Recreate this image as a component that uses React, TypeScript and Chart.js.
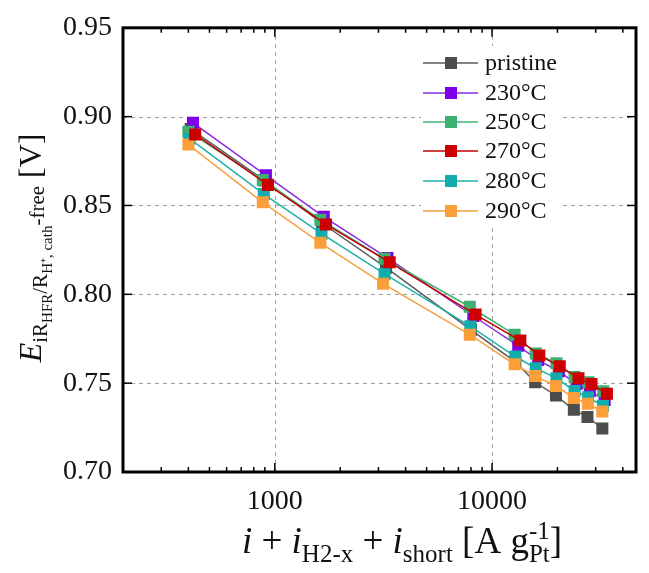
import React, { useEffect, useRef } from 'react';
import { Chart, registerables } from 'chart.js';

Chart.register(...registerables);

// ---------- data ----------
const seriesLabels = ['pristine', '230°C', '250°C', '270°C', '280°C', '290°C'];

const xPristine = [410, 900, 1650, 3250, 8000, 12800, 15800, 19700, 23800, 27500, 32200];
const yPristine = [0.893, 0.864, 0.840, 0.815, 0.780, 0.762, 0.7505, 0.743, 0.735, 0.731, 0.7245];

const x230 = [420, 910, 1680, 3300, 8200, 13200, 16300, 20300, 24500, 28200, 33000];
const y230 = [0.8965, 0.867, 0.8436, 0.8205, 0.7878, 0.771, 0.763, 0.7567, 0.7495, 0.7456, 0.7405];

const x250 = [400, 880, 1620, 3200, 7900, 12700, 15900, 19800, 24000, 27800, 32500];
const y250 = [0.8915, 0.8644, 0.842, 0.820, 0.793, 0.7773, 0.7667, 0.7612, 0.7534, 0.7505, 0.7455];

const x270 = [430, 930, 1720, 3380, 8400, 13500, 16500, 20500, 25000, 28700, 33800];
const y270 = [0.890, 0.8616, 0.8393, 0.818, 0.7886, 0.774, 0.7656, 0.7595, 0.7528, 0.7495, 0.744];

const x280 = [405, 890, 1640, 3200, 7950, 12800, 15900, 19800, 24000, 27700, 32400];
const y280 = [0.8876, 0.8564, 0.8341, 0.8115, 0.782, 0.765, 0.7584, 0.7528, 0.7456, 0.742, 0.7373];

const x290 = [400, 880, 1620, 3150, 7900, 12700, 15800, 19700, 23800, 27600, 32200];
const y290 = [0.8843, 0.8518, 0.829, 0.806, 0.7773, 0.7606, 0.754, 0.7484, 0.7417, 0.7384, 0.734];

const seriesX = [xPristine, x230, x250, x270, x280, x290];
const seriesY = [yPristine, y230, y250, y270, y280, y290];

const lineColors = ['#5a5a5a', '#8a2be2', '#3cb371', '#c00000', '#20b2aa', '#f7a040'];
const markerColors = ['#4d4d4d', '#7f00e6', '#3cb070', '#cc0000', '#12acac', '#fa9f3a'];
const drawOrder = [6, 5, 4, 1, 3, 2];

const xMin = 200;
const xMax = 46000;
const yMin = 0.70;
const yMax = 0.95;
const xMajorTicks = [1000, 10000];
const xMinorTicks = [300, 400, 500, 600, 700, 800, 900, 2000, 3000, 4000, 5000, 6000, 7000, 8000, 9000, 20000, 30000, 40000];
const yTickValues = [0.70, 0.75, 0.80, 0.85, 0.90, 0.95];

const FONT = "'Liberation Serif', 'Times New Roman', serif";

type Part = { t?: string; s: number; i?: boolean; dy?: number; sup?: string; sub?: string };

const yTitleParts: Part[] = [
  { t: 'E', s: 32, i: true, dy: 0 },
  { t: 'iR', s: 21, dy: 6 },
  { t: 'HFR', s: 15, dy: 11 },
  { t: '/R', s: 21, dy: 6 },
  { t: 'H⁺, cath', s: 15, dy: 11 },
  { t: '-free', s: 21, dy: 3 },
  { t: ' [V]', s: 32, dy: 0 },
];

const xTitleParts: Part[] = [
  { t: 'i', s: 37, i: true },
  { t: ' + ', s: 37 },
  { t: 'i', s: 37, i: true },
  { t: 'H2-x', s: 25, dy: 9 },
  { t: ' + ', s: 37 },
  { t: 'i', s: 37, i: true },
  { t: 'short', s: 25, dy: 9 },
  { t: ' [A g', s: 37 },
  { sup: '-1', sub: 'Pt', s: 25 },
  { t: ']', s: 37 },
];

function fontOf(p: Part) {
  return `${p.i ? 'italic ' : ''}${p.s}px ${FONT}`;
}

function partWidth(ctx: CanvasRenderingContext2D, p: Part) {
  ctx.font = fontOf(p);
  if (p.t !== undefined) return ctx.measureText(p.t).width;
  return Math.max(ctx.measureText(p.sup || '').width, ctx.measureText(p.sub || '').width);
}

function drawRich(ctx: CanvasRenderingContext2D, parts: Part[], cx: number, baseY: number) {
  const total = parts.reduce((a, p) => a + partWidth(ctx, p), 0);
  let x = cx - total / 2;
  ctx.textAlign = 'left';
  ctx.textBaseline = 'alphabetic';
  for (const p of parts) {
    const w = partWidth(ctx, p);
    ctx.font = fontOf(p);
    if (p.t !== undefined) {
      ctx.fillText(p.t, x, baseY + (p.dy || 0));
    } else {
      ctx.fillText(p.sup || '', x, baseY - 14);
      ctx.fillText(p.sub || '', x, baseY + 9);
    }
    x += w;
  }
}

const framePlugin = {
  id: 'framePlugin',
  beforeDatasetsDraw(chart: any) {
    const { ctx, chartArea: a, scales } = chart;
    const xs = scales.x;
    const ys = scales.y;
    ctx.save();
    ctx.strokeStyle = '#a0a0a0';
    ctx.lineWidth = 1;
    ctx.setLineDash([4, 4]);
    for (const v of xMajorTicks) {
      const px = Math.round(xs.getPixelForValue(v)) + 0.5;
      ctx.beginPath();
      ctx.moveTo(px, a.top);
      ctx.lineTo(px, a.bottom);
      ctx.stroke();
    }
    for (const v of yTickValues) {
      const py = Math.round(ys.getPixelForValue(v)) + 0.5;
      ctx.beginPath();
      ctx.moveTo(a.left, py);
      ctx.lineTo(a.right, py);
      ctx.stroke();
    }
    ctx.restore();
  },
  afterDatasetsDraw(chart: any) {
    const { ctx } = chart;
    // legend
    ctx.save();
    const boxL = 421, boxT = 46, boxR = 563, boxB = 228;
    ctx.fillStyle = '#ffffff';
    ctx.fillRect(boxL, boxT, boxR - boxL, boxB - boxT);
    const rowY = [63, 93, 122, 151, 181, 211];
    for (let i = 0; i < seriesLabels.length; i++) {
      const y = rowY[i];
      ctx.strokeStyle = lineColors[i];
      ctx.lineWidth = 1.5;
      ctx.setLineDash([]);
      ctx.beginPath();
      ctx.moveTo(423, y);
      ctx.lineTo(478, y);
      ctx.stroke();
      ctx.fillStyle = markerColors[i];
      ctx.fillRect(445, y - 6, 12, 12);
      ctx.fillStyle = '#111';
      ctx.font = `24px ${FONT}`;
      ctx.textAlign = 'left';
      ctx.textBaseline = 'middle';
      ctx.fillText(seriesLabels[i], 485, y + 1);
    }
    ctx.restore();
  },
  afterDraw(chart: any) {
    const { ctx, chartArea: a, scales } = chart;
    const xs = scales.x;
    const ys = scales.y;
    ctx.save();
    ctx.strokeStyle = '#000';
    ctx.setLineDash([]);
    ctx.lineWidth = 1.5;
    const tick = (x1: number, y1: number, x2: number, y2: number) => {
      ctx.beginPath();
      ctx.moveTo(x1, y1);
      ctx.lineTo(x2, y2);
      ctx.stroke();
    };
    for (const v of xMajorTicks) {
      const px = xs.getPixelForValue(v);
      tick(px, a.bottom, px, a.bottom - 9);
      tick(px, a.top, px, a.top + 9);
    }
    for (const v of xMinorTicks) {
      const px = xs.getPixelForValue(v);
      tick(px, a.bottom, px, a.bottom - 5);
      tick(px, a.top, px, a.top + 5);
    }
    for (const v of yTickValues) {
      const py = ys.getPixelForValue(v);
      tick(a.left, py, a.left + 9, py);
      tick(a.right, py, a.right - 9, py);
    }
    ctx.lineWidth = 3;
    ctx.strokeRect(a.left, a.top, a.right - a.left, a.bottom - a.top);

    // axis titles
    ctx.fillStyle = '#111';
    drawRich(ctx, xTitleParts, 402, 553);
    ctx.translate(41, (a.top + a.bottom) / 2 - 2);
    ctx.rotate(-Math.PI / 2);
    drawRich(ctx, yTitleParts, 0, 0);
    ctx.restore();
  },
};

export default function App() {
  const ref = useRef<HTMLCanvasElement | null>(null);
  useEffect(() => {
    if (!ref.current) return;
    const datasets = seriesLabels.map((label, i) => ({
      label,
      data: seriesX[i].map((x, j) => ({ x, y: seriesY[i][j] })),
      borderColor: lineColors[i],
      backgroundColor: markerColors[i],
      pointBackgroundColor: markerColors[i],
      pointBorderColor: markerColors[i],
      pointStyle: 'rect' as const,
      pointRadius: 8.5,
      pointBorderWidth: 0,
      borderWidth: 1.5,
      showLine: true,
      order: drawOrder[i],
    }));
    const chart = new Chart(ref.current, {
      type: 'scatter',
      data: { datasets },
      options: {
        animation: false,
        responsive: true,
        maintainAspectRatio: false,
        layout: { padding: { top: 23, right: 9, left: 0, bottom: 0 } },
        plugins: { legend: { display: false }, tooltip: { enabled: false } },
        scales: {
          x: {
            type: 'logarithmic',
            min: xMin,
            max: xMax,
            grid: { display: false, drawTicks: false },
            border: { display: false },
            ticks: {
              autoSkip: false,
              maxRotation: 0,
              padding: 13,
              color: '#111',
              font: { family: FONT, size: 28 },
              callback: (v: any) => (xMajorTicks.includes(Number(v)) ? String(v) : ''),
            },
            afterFit: (s: any) => {
              s.height = 101;
            },
          },
          y: {
            min: yMin,
            max: yMax,
            grid: { display: false, drawTicks: false },
            border: { display: false },
            ticks: {
              stepSize: 0.05,
              padding: 11,
              color: '#111',
              font: { family: FONT, size: 28 },
              callback: (v: any) => Number(v).toFixed(2),
            },
            afterFit: (s: any) => {
              s.width = 123;
            },
          },
        },
      },
      plugins: [framePlugin],
    });
    return () => chart.destroy();
  }, []);
  return (
    <div style={{ position: 'absolute', left: 0, top: 0, width: 649, height: 573, background: '#fff' }}>
      <canvas ref={ref} />
    </div>
  );
}
